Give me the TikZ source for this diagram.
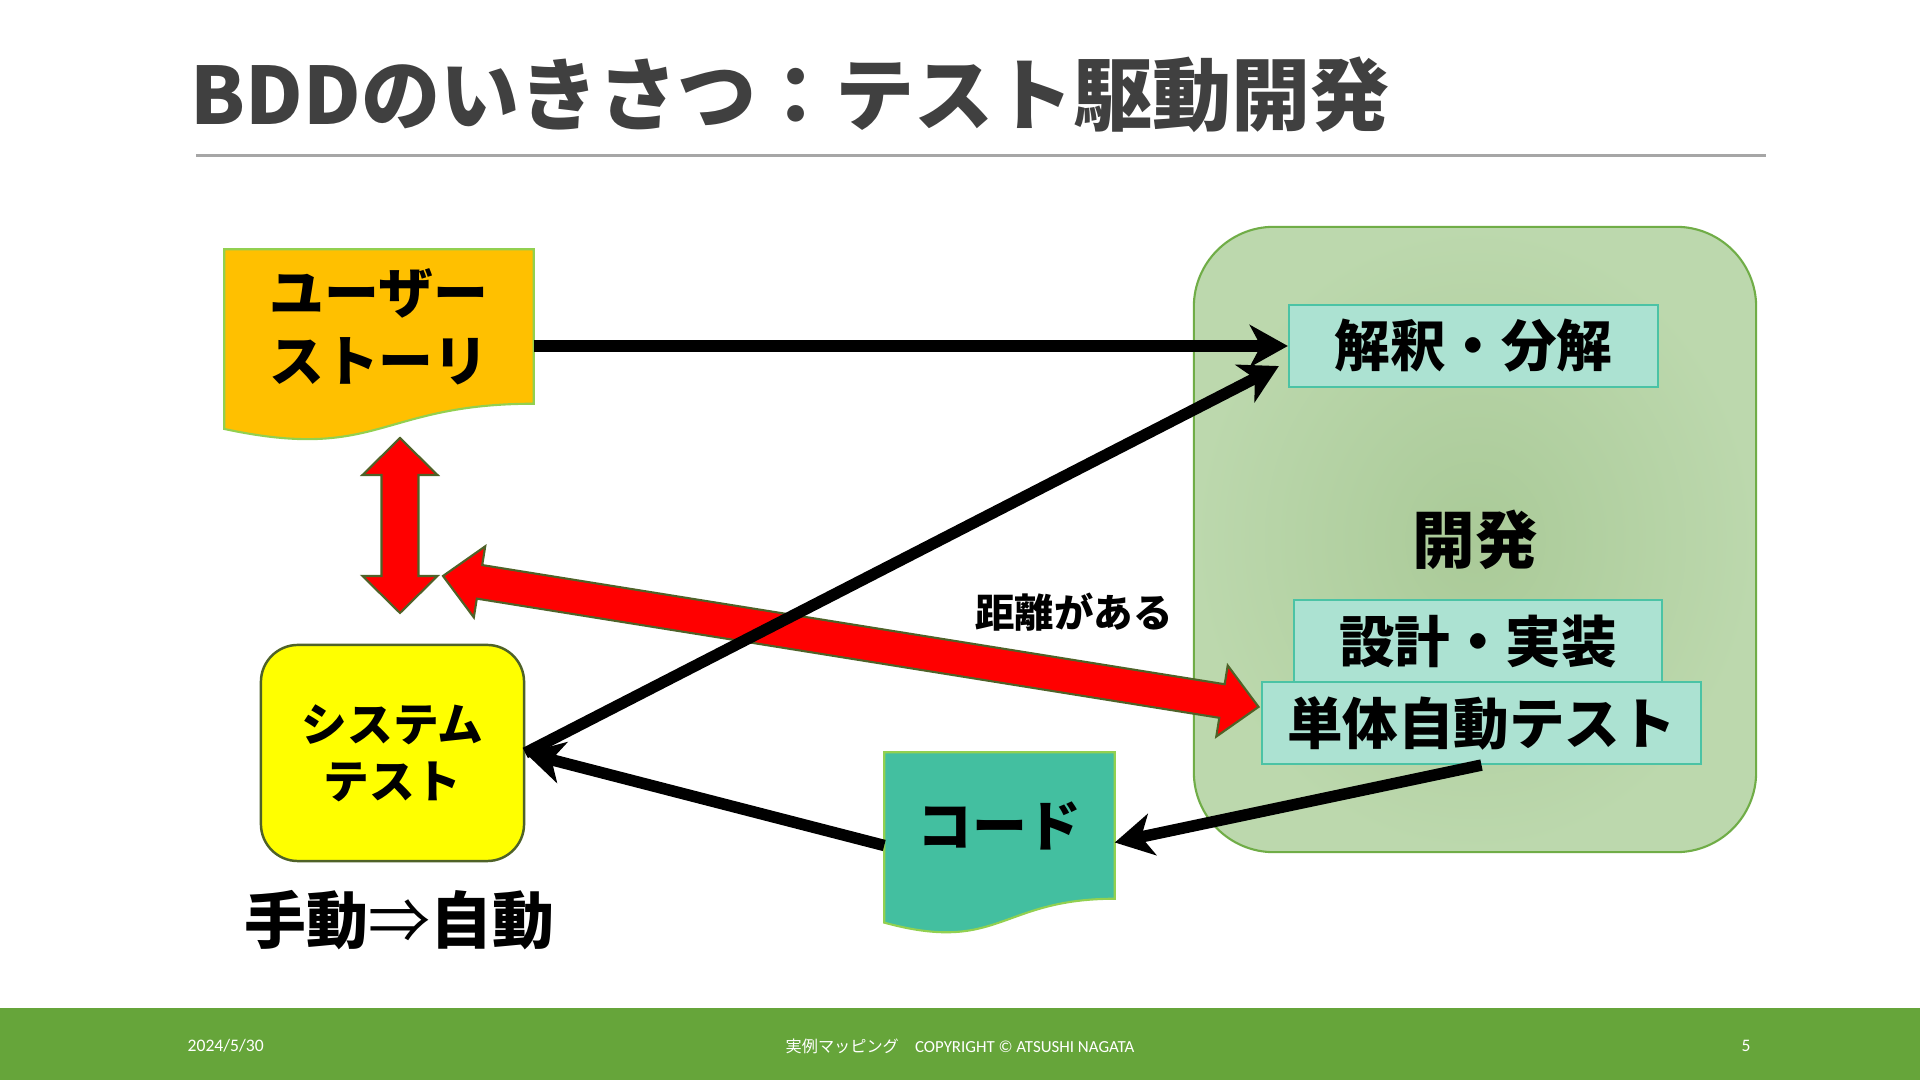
\documentclass[tikz,border=0pt]{standalone}
\usepackage{fontspec}
\setmainfont{Noto Sans CJK JP}
\newfontfamily\footfont{Carlito}
\usetikzlibrary{calc,positioning,arrows.meta,backgrounds}
\definecolor{titlec}{RGB}{64,64,64}
\definecolor{rulec}{RGB}{166,166,166}
\definecolor{footc}{RGB}{102,165,58}
\definecolor{storyc}{RGB}{255,192,0}
\definecolor{codec}{RGB}{67,191,160}
\definecolor{docline}{RGB}{146,208,80}
\definecolor{sysc}{RGB}{255,255,0}
\definecolor{sysline}{RGB}{79,98,40}
\definecolor{devin}{RGB}{170,202,152}
\definecolor{devout}{RGB}{188,216,173}
\definecolor{devline}{RGB}{112,173,71}
\definecolor{taskc}{RGB}{172,226,210}
\definecolor{taskline}{RGB}{75,195,165}
\definecolor{redc}{RGB}{255,0,0}
\definecolor{redline}{RGB}{79,98,40}
\tikzset{
  doctext/.style={inner sep=0pt,align=center,font=\bfseries\fontsize{15.6pt}{19.3pt}\selectfont},
  docshape/.style={draw=docline,line width=0.6pt},
  sysbox/.style={rectangle,rounded corners=0.37cm,draw=sysline,line width=0.7pt,fill=sysc,
    minimum width=2.63cm,minimum height=2.16cm,inner sep=0pt,align=center,
    font=\bfseries\fontsize{13pt}{16.2pt}\selectfont},
  devbox/.style={rectangle,rounded corners=0.8cm,draw=devline,line width=0.6pt,
    inner color=devin,outer color=devout,minimum width=5.62cm,minimum height=6.25cm,
    font=\bfseries\fontsize{17.8pt}{21pt}\selectfont},
  taskbox/.style={rectangle,draw=taskline,line width=0.6pt,fill=taskc,minimum height=0.82cm,
    inner sep=0pt,font=\bfseries\fontsize{15.8pt}{19pt}\selectfont},
  blk/.style={-{Stealth[length=0.38cm,width=0.42cm,inset=0.11cm]},line width=0.115cm,black},
  redarr/.style={fill=redc,draw=redline,line width=0.6pt,line join=miter},
  foot/.style={white,inner sep=0pt},
}
% block arrow with two heads, drawn along local x
\newcommand\dblarrow[3]{% length, shaft half width, head half width
  \filldraw[redarr] (0,0) -- (37,-#3) -- (37,-#2) -- (#1-37,-#2) -- (#1-37,-#3) -- (#1,0)
    -- (#1-37,#3) -- (#1-37,#2) -- (37,#2) -- (37,#3) -- cycle;}

\begin{document}
\begin{tikzpicture}[x=0.01cm,y=-0.01cm]
  \useasboundingbox (0,0) rectangle (1920,1080);
  % title and footer
  \node[anchor=base west,inner sep=0pt,titlec,font=\bfseries\fontsize{22.5pt}{27pt}\selectfont] (title) at (190,125) {BDDのいきさつ：テスト駆動開発};
  \draw[rulec,line width=0.6pt] (196,155.5) -- (1766,155.5);
  \fill[footc] (0,1008) rectangle (1920,1080);
  \node[foot,anchor=west,font=\footfont\fontsize{5pt}{6pt}\selectfont] (date) at (187,1046) {2024/5/30};
  \node[foot] (copy) at (960,1046) {{\fontsize{4.6pt}{6pt}\selectfont 実例マッピング　}{\footfont\fontsize{4.8pt}{6pt}\selectfont COPYRIGHT © ATSUSHI NAGATA}};
  \node[foot,font=\footfont\fontsize{5pt}{6pt}\selectfont] (page) at (1746,1046) {5};
  % documents
  \node[doctext,minimum width=3.08cm,minimum height=1.53cm] (story) at (379,326.5) {ユーザー\\ストーリ};
  \node[doctext,minimum width=2.29cm,minimum height=1.45cm] (code) at (999.5,825.5) {コード};
  \begin{scope}[on background layer]
    \fill[white] (0,0) rectangle (1920,1080);
    \draw[docshape,fill=storyc] (story.north west) -- (story.north east) -- (story.south east)
      .. controls (story.south) and ($(story.south)+(0,58.4)$) .. ($(story.south west)+(0,25.2)$) -- cycle;
    \draw[docshape,fill=codec] (code.north west) -- (code.north east) -- (code.south east)
      .. controls (code.south) and ($(code.south)+(0,55.3)$) .. ($(code.south west)+(0,23.9)$) -- cycle;
  \end{scope}
  % system test
  \node[sysbox] (systest) at (392.5,753) {システム\\テスト};
  \node[below=0.27cm of systest,xshift=0.07cm,inner sep=0pt,font=\bfseries\fontsize{17.6pt}{21pt}\selectfont] (auto) {手動{\mdseries ⇒}自動};
  % development
  \node[devbox] (dev) at (1475,539.5) {開発};
  \node[taskbox,minimum width=3.69cm] (interp) at (1473.5,346) {解釈・分解};
  \node[taskbox,minimum width=3.68cm] (design) at (1478,641) {設計・実装};
  \node[taskbox,minimum width=4.39cm] (unit) at (1481.5,723) {単体自動テスト};
  % red block arrows
  \coordinate (vt) at (400,438);
  \coordinate (dl) at (443,576);
  \begin{scope}[shift={(vt)},rotate=-90]
    \dblarrow{175}{18.5}{37.5}
  \end{scope}
  \begin{scope}[shift={(dl)},rotate=-9.12]
    \dblarrow{826}{17}{36}
  \end{scope}
  \node[inner sep=0pt,font=\bfseries\fontsize{11.2pt}{13pt}\selectfont] (gap) at (1074,612) {距離がある};
  % black arrows
  \draw[blk] (story.east |- interp.west) -- (interp.west);
  \draw[blk] (systest.east) -- ($(interp.south west)+(-9,-22)$);
  \draw[blk] (unit.south) -- ($(code.east)+(0,17)$);
  \draw[blk] ($(code.west)+(0,20)$) -- (systest.east);
\end{tikzpicture}
\end{document}
